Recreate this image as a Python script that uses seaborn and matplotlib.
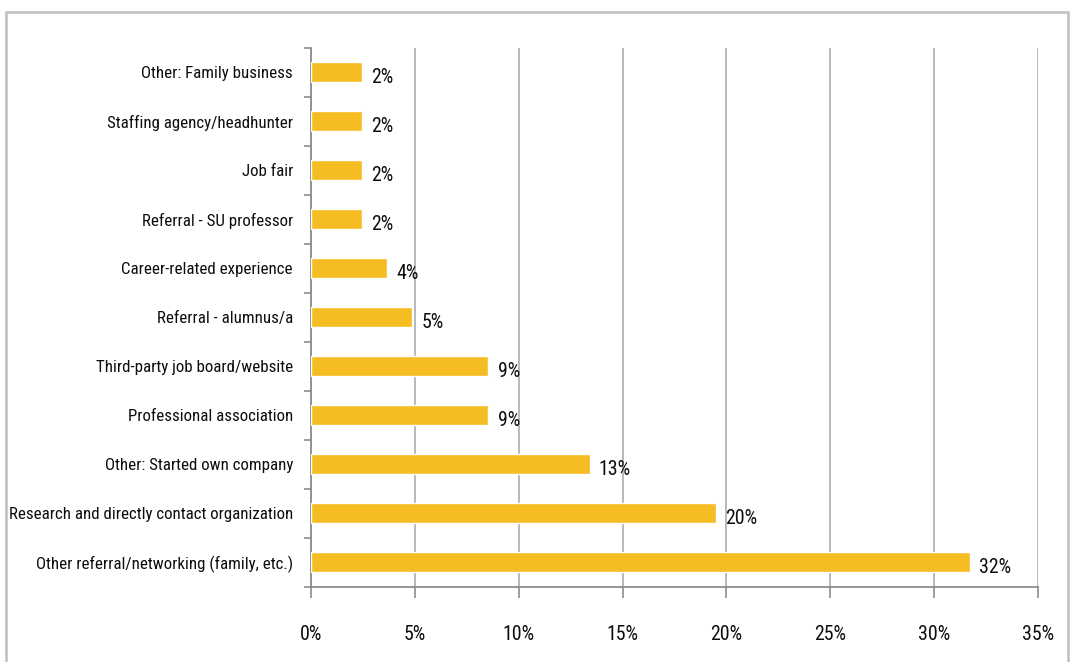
import matplotlib
matplotlib.use("Agg")
import matplotlib.pyplot as plt
from matplotlib import font_manager
from matplotlib.font_manager import FontProperties
import seaborn as sns
import pandas as pd
from matplotlib.patches import Rectangle

# How graduates found their position (share of respondents, %)
sources = [
    "Other: Family business",
    "Staffing agency/headhunter",
    "Job fair",
    "Referral - SU professor",
    "Career-related experience",
    "Referral - alumnus/a",
    "Third-party job board/website",
    "Professional association",
    "Other: Started own company",
    "Research and directly contact organization",
    "Other referral/networking (family, etc.)",
]
shares = [2.44, 2.44, 2.44, 2.44, 3.66, 4.88, 8.54, 8.54, 13.41, 19.51, 31.71]
x_ticks = [0, 5, 10, 15, 20, 25, 30, 35]


def pick_narrow_font():
    """Return (family, stretch) of the narrowest sans font that is installed."""
    for fam in ["Liberation Sans Narrow", "Roboto Condensed", "Open Sans Condensed",
                "DejaVu Sans Condensed", "Noto Sans Condensed"]:
        try:
            font_manager.findfont(FontProperties(family=fam), fallback_to_default=False)
            return fam, "normal"
        except Exception:
            pass
    for fam in ["DejaVu Sans", "Noto Sans", "Roboto"]:
        path = font_manager.findfont(FontProperties(family=fam, stretch="condensed"))
        if "ondensed" in path or "arrow" in path:
            return fam, "condensed"
    return "Liberation Sans", "normal"


family, stretch = pick_narrow_font()

df = pd.DataFrame({"source": sources, "share": shares})

sns.set_theme(style="white")
plt.rcParams["font.family"] = [family, "DejaVu Sans"]
plt.rcParams["font.stretch"] = stretch

fig = plt.figure(figsize=(10.7, 6.62), dpi=100)
ax = fig.add_axes([311 / 1070, 1 - 586.5 / 662, (1038 - 311) / 1070, (586.5 - 47.5) / 662])

# size the text so the longest category label spans about 282 px
renderer = fig.canvas.get_renderer()
probe = fig.text(0, 0, max(sources, key=len), fontsize=10)
w10 = probe.get_window_extent(renderer).width
probe.remove()
fs = min(16.0, 10 * 282 / w10)
fs_num = fs * 1.18

bar_color = "#F5BD22"
sns.barplot(data=df, y="source", x="share", orient="h", color=bar_color,
            saturation=1, width=0.41, ax=ax, zorder=3)

ax.set_xlim(0, 35)
ax.set_ylim(len(sources) - 0.5, -0.5)
ax.set_xticks(x_ticks)
ax.set_xticklabels([f"{t}%" for t in x_ticks])
ax.set_xlabel("")
ax.set_ylabel("")

grid_color = "#A6A6A6"
ax.grid(axis="x", color=grid_color, linewidth=1.1, zorder=0)
ax.grid(axis="y", visible=False)
for side in ("top", "right"):
    ax.spines[side].set_visible(False)
for side in ("left", "bottom"):
    ax.spines[side].set_visible(True)
    ax.spines[side].set_color("#8C8C8C")
    ax.spines[side].set_linewidth(1.3)

# category ticks sit on the boundaries between bars
ax.set_yticks(range(len(sources)))
ax.set_yticklabels(sources)
ax.set_yticks([i - 0.5 for i in range(len(sources) + 1)], minor=True)
ax.tick_params(axis="y", which="major", length=0, pad=13, labelsize=fs, labelcolor="#0d0d0d")
ax.tick_params(axis="y", which="minor", length=5, width=1.2, color="#8C8C8C", left=True)
ax.tick_params(axis="x", which="major", length=8, width=1.2, color="#8C8C8C", bottom=True,
               pad=20, labelsize=fs_num, labelcolor="#0d0d0d")

for i, v in enumerate(shares):
    ax.text(v + 0.45, i + 0.12, f"{v:.0f}%", va="center", ha="left",
            fontsize=fs_num, color="#0d0d0d", zorder=4)

# outer frame of the chart area
fig.patches.append(Rectangle((6 / 1070, -0.01), (1068 - 6) / 1070, 1 - 12 / 662 + 0.01,
                             transform=fig.transFigure, fill=False,
                             edgecolor="#BFBFBF", linewidth=1.8, zorder=0))

fig.savefig("out.png", dpi=100, facecolor="white")
